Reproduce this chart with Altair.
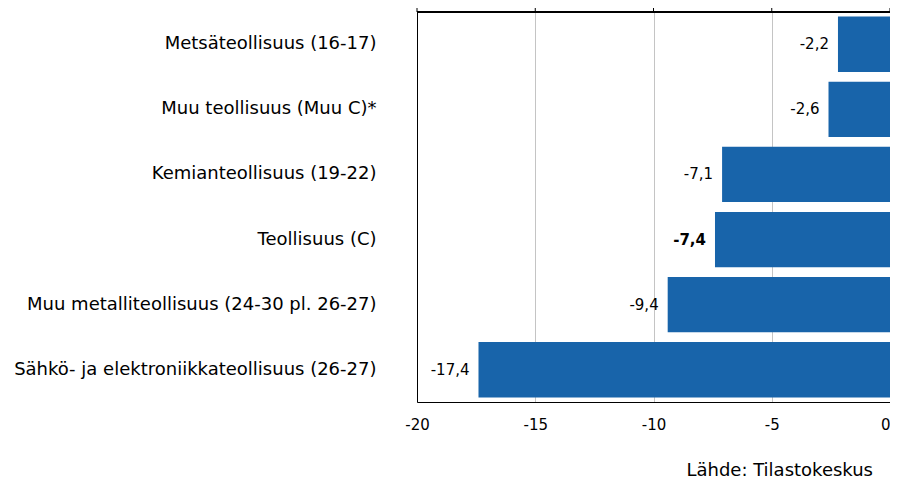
import altair as alt
import pandas as pd

categories = [
    "Metsäteollisuus (16-17)",
    "Muu teollisuus (Muu  C)*",
    "Kemianteollisuus (19-22)",
    "Teollisuus (C)",
    "Muu metalliteollisuus (24-30  pl. 26-27)",
    "Sähkö- ja elektroniikkateollisuus  (26-27)",
]
values = [-2.2, -2.6, -7.1, -7.4, -9.4, -17.4]
highlight = "Teollisuus (C)"
x_ticks = [-20, -15, -10, -5, 0]
source = "Lähde: Tilastokeskus"

df = pd.DataFrame({"cat": categories, "value": values})
ticks_df = pd.DataFrame({"t": x_ticks})

FONT = "DejaVu Sans"
x_scale = alt.Scale(domain=[-20, 0], nice=False, zero=False)
y_scale = alt.Scale(domain=categories, paddingInner=0.15, paddingOuter=0.07)

base = alt.Chart(df)

bars = base.mark_bar(color="#1864aa").encode(
    x=alt.X(
        "value:Q",
        scale=x_scale,
        axis=alt.Axis(
            values=x_ticks,
            title=None,
            grid=True,
            gridColor="#c4c4c4",
            domainColor="black",
            ticks=False,
            labelFont=FONT,
            labelFontSize=15,
            labelColor="black",
            labelPadding=15,
            labelFlush=False,
            labelAlign=alt.expr("datum.value == 0 ? 'right' : 'center'"),
            format="d",
        ),
    ),
    x2=alt.datum(0),
    y=alt.Y(
        "cat:N",
        sort=categories,
        scale=y_scale,
        axis=alt.Axis(
            title=None,
            ticks=False,
            labelFont=FONT,
            labelFontSize=18,
            labelPadding=41,
            labelLimit=0,
            domainColor="black",
            labelColor="black",
        ),
    ),
)

text_enc = dict(
    x=alt.X("value:Q", scale=x_scale),
    y=alt.Y("cat:N", sort=categories, scale=y_scale),
    text=alt.Text("value:Q", format=".1f"),
)

labels = base.transform_filter(alt.datum.cat != highlight).mark_text(
    align="right", baseline="middle", dx=-9, font=FONT, fontSize=15, color="black"
).encode(**text_enc)

labels_bold = base.transform_filter(alt.datum.cat == highlight).mark_text(
    align="right", baseline="middle", dx=-9, font=FONT, fontSize=15, fontWeight="bold", color="black"
).encode(**text_enc)

top_line = alt.Chart(ticks_df).mark_rule(color="black", strokeWidth=2).encode(
    x=alt.X("min(t):Q", scale=x_scale),
    x2=alt.X2("max(t):Q"),
    y=alt.value(0),
)

top_ticks = alt.Chart(ticks_df).mark_rule(color="black", strokeWidth=1).encode(
    x=alt.X("t:Q", scale=x_scale),
    y=alt.value(-5),
    y2=alt.value(0),
)

chart = (
    alt.layer(bars, labels, labels_bold, top_line, top_ticks)
    .properties(
        width=473,
        height=390,
        autosize=alt.AutoSizeParams(type="none"),
        padding={"left": 409, "top": 4, "right": 0, "bottom": 81},
        title=alt.TitleParams(
            source,
            orient="bottom",
            anchor="end",
            font=FONT,
            fontSize=18,
            fontWeight="normal",
            color="black",
            offset=30,
            dx=-18,
        ),
    )
    .configure_view(stroke=None)
    .configure(locale=alt.Locale(number=alt.NumberLocale(decimal=",", thousands=" ", grouping=[3], currency=["", " €"], minus="-")))
)

chart.save("out.html", embed_options={"renderer": "svg", "actions": False})
